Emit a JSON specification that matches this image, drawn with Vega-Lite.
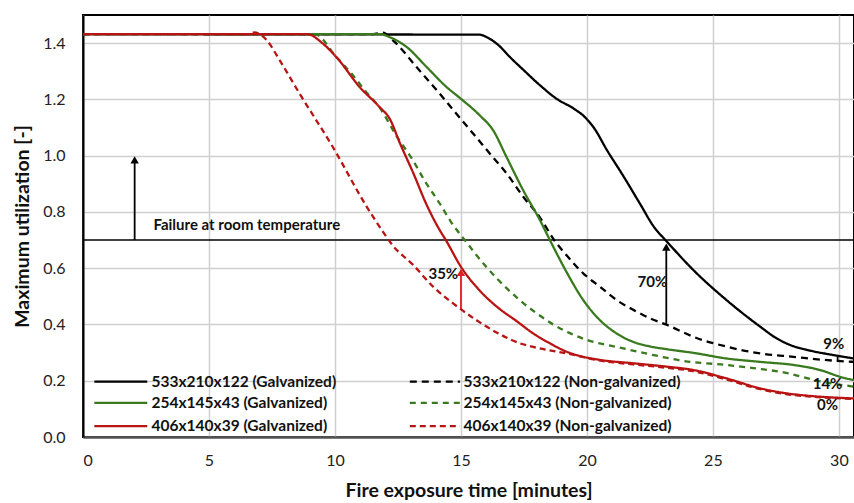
{
  "$schema": "https://vega.github.io/schema/vega-lite/v6.json",
  "width": 771,
  "height": 422,
  "autosize": {"type": "none"},
  "padding": {"left": 83, "top": 15, "right": 0, "bottom": 66},
  "background": "white",
  "config": {
    "font": "Lato",
    "view": {"stroke": "black", "strokeWidth": 2},
    "axis": {
      "labelFont": "Lato",
      "labelFontSize": 16,
      "labelColor": "#222222",
      "titleFont": "Lato",
      "titleFontSize": 19.5,
      "titleFontWeight": "bold",
      "titleColor": "#111111",
      "gridColor": "#d0d0d0",
      "gridWidth": 1.5,
      "ticks": false
    }
  },
  "datasets": {
    "curves": [
      {"series": "533x210x122 (Galvanized)", "t": 0, "u": 1.432},
      {"series": "533x210x122 (Galvanized)", "t": 15.75, "u": 1.43},
      {"series": "533x210x122 (Galvanized)", "t": 16.03, "u": 1.421},
      {"series": "533x210x122 (Galvanized)", "t": 16.5, "u": 1.392},
      {"series": "533x210x122 (Galvanized)", "t": 16.95, "u": 1.35},
      {"series": "533x210x122 (Galvanized)", "t": 17.5, "u": 1.303},
      {"series": "533x210x122 (Galvanized)", "t": 18.14, "u": 1.25},
      {"series": "533x210x122 (Galvanized)", "t": 18.8, "u": 1.202},
      {"series": "533x210x122 (Galvanized)", "t": 19.48, "u": 1.167},
      {"series": "533x210x122 (Galvanized)", "t": 19.92, "u": 1.137},
      {"series": "533x210x122 (Galvanized)", "t": 20.27, "u": 1.1},
      {"series": "533x210x122 (Galvanized)", "t": 20.8, "u": 1.019},
      {"series": "533x210x122 (Galvanized)", "t": 21.47, "u": 0.924},
      {"series": "533x210x122 (Galvanized)", "t": 22.1, "u": 0.83},
      {"series": "533x210x122 (Galvanized)", "t": 22.66, "u": 0.747},
      {"series": "533x210x122 (Galvanized)", "t": 23.19, "u": 0.693},
      {"series": "533x210x122 (Galvanized)", "t": 24.23, "u": 0.593},
      {"series": "533x210x122 (Galvanized)", "t": 25.55, "u": 0.486},
      {"series": "533x210x122 (Galvanized)", "t": 26.88, "u": 0.392},
      {"series": "533x210x122 (Galvanized)", "t": 27.54, "u": 0.35},
      {"series": "533x210x122 (Galvanized)", "t": 28.07, "u": 0.327},
      {"series": "533x210x122 (Galvanized)", "t": 28.86, "u": 0.307},
      {"series": "533x210x122 (Galvanized)", "t": 29.8, "u": 0.291},
      {"series": "533x210x122 (Galvanized)", "t": 30.6, "u": 0.279},

      {"series": "533x210x122 (Non-galvanized)", "t": 0, "u": 1.432},
      {"series": "533x210x122 (Non-galvanized)", "t": 11.5, "u": 1.432},
      {"series": "533x210x122 (Non-galvanized)", "t": 11.9, "u": 1.437},
      {"series": "533x210x122 (Non-galvanized)", "t": 12.3, "u": 1.41},
      {"series": "533x210x122 (Non-galvanized)", "t": 13.24, "u": 1.315},
      {"series": "533x210x122 (Non-galvanized)", "t": 14.16, "u": 1.22},
      {"series": "533x210x122 (Non-galvanized)", "t": 14.82, "u": 1.149},
      {"series": "533x210x122 (Non-galvanized)", "t": 15.49, "u": 1.078},
      {"series": "533x210x122 (Non-galvanized)", "t": 16.15, "u": 1.007},
      {"series": "533x210x122 (Non-galvanized)", "t": 16.82, "u": 0.936},
      {"series": "533x210x122 (Non-galvanized)", "t": 17.48, "u": 0.853},
      {"series": "533x210x122 (Non-galvanized)", "t": 18.14, "u": 0.78},
      {"series": "533x210x122 (Non-galvanized)", "t": 18.7, "u": 0.7},
      {"series": "533x210x122 (Non-galvanized)", "t": 19.2, "u": 0.645},
      {"series": "533x210x122 (Non-galvanized)", "t": 19.86, "u": 0.581},
      {"series": "533x210x122 (Non-galvanized)", "t": 20.52, "u": 0.534},
      {"series": "533x210x122 (Non-galvanized)", "t": 21.19, "u": 0.486},
      {"series": "533x210x122 (Non-galvanized)", "t": 21.86, "u": 0.451},
      {"series": "533x210x122 (Non-galvanized)", "t": 22.5, "u": 0.422},
      {"series": "533x210x122 (Non-galvanized)", "t": 23.19, "u": 0.398},
      {"series": "533x210x122 (Non-galvanized)", "t": 24.23, "u": 0.356},
      {"series": "533x210x122 (Non-galvanized)", "t": 25.55, "u": 0.321},
      {"series": "533x210x122 (Non-galvanized)", "t": 26.88, "u": 0.297},
      {"series": "533x210x122 (Non-galvanized)", "t": 28.2, "u": 0.285},
      {"series": "533x210x122 (Non-galvanized)", "t": 29.55, "u": 0.273},
      {"series": "533x210x122 (Non-galvanized)", "t": 30.6, "u": 0.267},

      {"series": "254x145x43 (Galvanized)", "t": 0, "u": 1.432},
      {"series": "254x145x43 (Galvanized)", "t": 11.8, "u": 1.432},
      {"series": "254x145x43 (Galvanized)", "t": 12.18, "u": 1.421},
      {"series": "254x145x43 (Galvanized)", "t": 12.85, "u": 1.386},
      {"series": "254x145x43 (Galvanized)", "t": 13.64, "u": 1.315},
      {"series": "254x145x43 (Galvanized)", "t": 14.43, "u": 1.244},
      {"series": "254x145x43 (Galvanized)", "t": 14.96, "u": 1.205},
      {"series": "254x145x43 (Galvanized)", "t": 15.75, "u": 1.143},
      {"series": "254x145x43 (Galvanized)", "t": 16.28, "u": 1.09},
      {"series": "254x145x43 (Galvanized)", "t": 16.81, "u": 0.995},
      {"series": "254x145x43 (Galvanized)", "t": 17.47, "u": 0.877},
      {"series": "254x145x43 (Galvanized)", "t": 18.14, "u": 0.77},
      {"series": "254x145x43 (Galvanized)", "t": 18.53, "u": 0.7},
      {"series": "254x145x43 (Galvanized)", "t": 19.2, "u": 0.585},
      {"series": "254x145x43 (Galvanized)", "t": 19.86, "u": 0.486},
      {"series": "254x145x43 (Galvanized)", "t": 20.52, "u": 0.415},
      {"series": "254x145x43 (Galvanized)", "t": 21.18, "u": 0.368},
      {"series": "254x145x43 (Galvanized)", "t": 21.84, "u": 0.338},
      {"series": "254x145x43 (Galvanized)", "t": 22.5, "u": 0.322},
      {"series": "254x145x43 (Galvanized)", "t": 23.17, "u": 0.312},
      {"series": "254x145x43 (Galvanized)", "t": 24.23, "u": 0.299},
      {"series": "254x145x43 (Galvanized)", "t": 25.55, "u": 0.279},
      {"series": "254x145x43 (Galvanized)", "t": 26.88, "u": 0.267},
      {"series": "254x145x43 (Galvanized)", "t": 28.2, "u": 0.256},
      {"series": "254x145x43 (Galvanized)", "t": 29.26, "u": 0.238},
      {"series": "254x145x43 (Galvanized)", "t": 30.05, "u": 0.214},
      {"series": "254x145x43 (Galvanized)", "t": 30.6, "u": 0.202},

      {"series": "254x145x43 (Non-galvanized)", "t": 0, "u": 1.432},
      {"series": "254x145x43 (Non-galvanized)", "t": 9.2, "u": 1.432},
      {"series": "254x145x43 (Non-galvanized)", "t": 10.06, "u": 1.35},
      {"series": "254x145x43 (Non-galvanized)", "t": 10.72, "u": 1.285},
      {"series": "254x145x43 (Non-galvanized)", "t": 11.25, "u": 1.225},
      {"series": "254x145x43 (Non-galvanized)", "t": 11.78, "u": 1.17},
      {"series": "254x145x43 (Non-galvanized)", "t": 12.44, "u": 1.07},
      {"series": "254x145x43 (Non-galvanized)", "t": 13.05, "u": 0.99},
      {"series": "254x145x43 (Non-galvanized)", "t": 13.6, "u": 0.905},
      {"series": "254x145x43 (Non-galvanized)", "t": 14.16, "u": 0.83},
      {"series": "254x145x43 (Non-galvanized)", "t": 14.6, "u": 0.765},
      {"series": "254x145x43 (Non-galvanized)", "t": 15.15, "u": 0.7},
      {"series": "254x145x43 (Non-galvanized)", "t": 16.0, "u": 0.605},
      {"series": "254x145x43 (Non-galvanized)", "t": 16.8, "u": 0.53},
      {"series": "254x145x43 (Non-galvanized)", "t": 17.34, "u": 0.486},
      {"series": "254x145x43 (Non-galvanized)", "t": 18.0, "u": 0.44},
      {"series": "254x145x43 (Non-galvanized)", "t": 18.66, "u": 0.4},
      {"series": "254x145x43 (Non-galvanized)", "t": 19.3, "u": 0.37},
      {"series": "254x145x43 (Non-galvanized)", "t": 20.0, "u": 0.345},
      {"series": "254x145x43 (Non-galvanized)", "t": 21.3, "u": 0.318},
      {"series": "254x145x43 (Non-galvanized)", "t": 22.6, "u": 0.292},
      {"series": "254x145x43 (Non-galvanized)", "t": 24.0, "u": 0.268},
      {"series": "254x145x43 (Non-galvanized)", "t": 25.3, "u": 0.258},
      {"series": "254x145x43 (Non-galvanized)", "t": 26.6, "u": 0.245},
      {"series": "254x145x43 (Non-galvanized)", "t": 27.9, "u": 0.228},
      {"series": "254x145x43 (Non-galvanized)", "t": 29.26, "u": 0.198},
      {"series": "254x145x43 (Non-galvanized)", "t": 30.6, "u": 0.179},

      {"series": "406x140x39 (Galvanized)", "t": 0, "u": 1.432},
      {"series": "406x140x39 (Galvanized)", "t": 8.9, "u": 1.432},
      {"series": "406x140x39 (Galvanized)", "t": 9.5, "u": 1.4},
      {"series": "406x140x39 (Galvanized)", "t": 10.06, "u": 1.35},
      {"series": "406x140x39 (Galvanized)", "t": 10.99, "u": 1.243},
      {"series": "406x140x39 (Galvanized)", "t": 11.78, "u": 1.172},
      {"series": "406x140x39 (Galvanized)", "t": 12.18, "u": 1.13},
      {"series": "406x140x39 (Galvanized)", "t": 12.57, "u": 1.046},
      {"series": "406x140x39 (Galvanized)", "t": 13.1, "u": 0.94},
      {"series": "406x140x39 (Galvanized)", "t": 13.64, "u": 0.825},
      {"series": "406x140x39 (Galvanized)", "t": 14.16, "u": 0.735},
      {"series": "406x140x39 (Galvanized)", "t": 14.4, "u": 0.7},
      {"series": "406x140x39 (Galvanized)", "t": 15.0, "u": 0.605},
      {"series": "406x140x39 (Galvanized)", "t": 15.75, "u": 0.52},
      {"series": "406x140x39 (Galvanized)", "t": 16.54, "u": 0.455},
      {"series": "406x140x39 (Galvanized)", "t": 17.21, "u": 0.412},
      {"series": "406x140x39 (Galvanized)", "t": 17.87, "u": 0.368},
      {"series": "406x140x39 (Galvanized)", "t": 18.53, "u": 0.333},
      {"series": "406x140x39 (Galvanized)", "t": 19.2, "u": 0.303},
      {"series": "406x140x39 (Galvanized)", "t": 19.86, "u": 0.285},
      {"series": "406x140x39 (Galvanized)", "t": 20.52, "u": 0.274},
      {"series": "406x140x39 (Galvanized)", "t": 21.84, "u": 0.262},
      {"series": "406x140x39 (Galvanized)", "t": 23.17, "u": 0.25},
      {"series": "406x140x39 (Galvanized)", "t": 24.23, "u": 0.238},
      {"series": "406x140x39 (Galvanized)", "t": 25.55, "u": 0.208},
      {"series": "406x140x39 (Galvanized)", "t": 26.88, "u": 0.173},
      {"series": "406x140x39 (Galvanized)", "t": 27.94, "u": 0.155},
      {"series": "406x140x39 (Galvanized)", "t": 28.86, "u": 0.146},
      {"series": "406x140x39 (Galvanized)", "t": 30.6, "u": 0.137},

      {"series": "406x140x39 (Non-galvanized)", "t": 0, "u": 1.432},
      {"series": "406x140x39 (Non-galvanized)", "t": 6.6, "u": 1.432},
      {"series": "406x140x39 (Non-galvanized)", "t": 6.8, "u": 1.438},
      {"series": "406x140x39 (Non-galvanized)", "t": 7.05, "u": 1.43},
      {"series": "406x140x39 (Non-galvanized)", "t": 7.3, "u": 1.41},
      {"series": "406x140x39 (Non-galvanized)", "t": 7.8, "u": 1.34},
      {"series": "406x140x39 (Non-galvanized)", "t": 8.6, "u": 1.22},
      {"series": "406x140x39 (Non-galvanized)", "t": 9.92, "u": 1.03},
      {"series": "406x140x39 (Non-galvanized)", "t": 11.25, "u": 0.82},
      {"series": "406x140x39 (Non-galvanized)", "t": 11.9, "u": 0.73},
      {"series": "406x140x39 (Non-galvanized)", "t": 12.3, "u": 0.68},
      {"series": "406x140x39 (Non-galvanized)", "t": 13.1, "u": 0.612},
      {"series": "406x140x39 (Non-galvanized)", "t": 13.9, "u": 0.534},
      {"series": "406x140x39 (Non-galvanized)", "t": 14.69, "u": 0.475},
      {"series": "406x140x39 (Non-galvanized)", "t": 15.62, "u": 0.415},
      {"series": "406x140x39 (Non-galvanized)", "t": 16.55, "u": 0.365},
      {"series": "406x140x39 (Non-galvanized)", "t": 17.34, "u": 0.333},
      {"series": "406x140x39 (Non-galvanized)", "t": 17.87, "u": 0.32},
      {"series": "406x140x39 (Non-galvanized)", "t": 19.2, "u": 0.297},
      {"series": "406x140x39 (Non-galvanized)", "t": 20.5, "u": 0.272},
      {"series": "406x140x39 (Non-galvanized)", "t": 21.84, "u": 0.258},
      {"series": "406x140x39 (Non-galvanized)", "t": 23.17, "u": 0.246},
      {"series": "406x140x39 (Non-galvanized)", "t": 24.23, "u": 0.234},
      {"series": "406x140x39 (Non-galvanized)", "t": 25.55, "u": 0.204},
      {"series": "406x140x39 (Non-galvanized)", "t": 26.88, "u": 0.17},
      {"series": "406x140x39 (Non-galvanized)", "t": 27.94, "u": 0.152},
      {"series": "406x140x39 (Non-galvanized)", "t": 28.86, "u": 0.144},
      {"series": "406x140x39 (Non-galvanized)", "t": 30.6, "u": 0.135}
    ],
    "legendRows": [
      {"series": "533x210x122 (Galvanized)", "x1": 0.45, "x2": 2.55, "lx": 2.72, "y": 0.197},
      {"series": "254x145x43 (Galvanized)", "x1": 0.45, "x2": 2.55, "lx": 2.72, "y": 0.121},
      {"series": "406x140x39 (Galvanized)", "x1": 0.45, "x2": 2.55, "lx": 2.72, "y": 0.039},
      {"series": "533x210x122 (Non-galvanized)", "x1": 12.97, "x2": 14.96, "lx": 15.1, "y": 0.197},
      {"series": "254x145x43 (Non-galvanized)", "x1": 12.97, "x2": 14.96, "lx": 15.1, "y": 0.121},
      {"series": "406x140x39 (Non-galvanized)", "x1": 12.97, "x2": 14.96, "lx": 15.1, "y": 0.039}
    ],
    "labels": [
      {"t": 6.5, "u": 0.752, "label": "Failure at room temperature"},
      {"t": 14.3, "u": 0.58, "label": "35%"},
      {"t": 22.6, "u": 0.551, "label": "70%"},
      {"t": 29.8, "u": 0.33, "label": "9%"},
      {"t": 29.55, "u": 0.19, "label": "14%"},
      {"t": 29.55, "u": 0.114, "label": "0%"}
    ]
  },
  "encoding": {
    "x": {
      "type": "quantitative",
      "scale": {"domain": [0, 30.6], "nice": false, "zero": false},
      "axis": {
        "title": "Fire exposure time [minutes]",
        "values": [0, 5, 10, 15, 20, 25, 30],
        "labelPadding": 15,
        "titlePadding": 13,
        "domainColor": "#555555",
        "domainWidth": 2.5
      }
    },
    "y": {
      "type": "quantitative",
      "scale": {"domain": [0, 1.5], "nice": false},
      "axis": {
        "title": "Maximum utilization [-]",
        "values": [0, 0.2, 0.4, 0.6, 0.8, 1.0, 1.2, 1.4],
        "format": ".1f",
        "labelPadding": 18,
        "titlePadding": 10,
        "domainColor": "#000000",
        "domainWidth": 2
      }
    }
  },
  "layer": [
    {
      "data": {"values": [{"u": 0.7}]},
      "mark": {"type": "rule", "color": "#000000", "strokeWidth": 1.6},
      "encoding": {"y": {"field": "u"}}
    },
    {
      "data": {"name": "curves"},
      "mark": {"type": "line", "strokeWidth": 2.3, "interpolate": "monotone"},
      "encoding": {
        "x": {"field": "t"},
        "y": {"field": "u"},
        "color": {
          "field": "series",
          "type": "nominal",
          "scale": {
            "domain": ["533x210x122 (Galvanized)", "533x210x122 (Non-galvanized)", "254x145x43 (Galvanized)", "254x145x43 (Non-galvanized)", "406x140x39 (Galvanized)", "406x140x39 (Non-galvanized)"],
            "range": ["#000000", "#000000", "#3a7a1e", "#3a7a1e", "#b81414", "#b81414"]
          },
          "legend": null
        },
        "strokeDash": {
          "field": "series",
          "type": "nominal",
          "scale": {
            "domain": ["533x210x122 (Galvanized)", "533x210x122 (Non-galvanized)", "254x145x43 (Galvanized)", "254x145x43 (Non-galvanized)", "406x140x39 (Galvanized)", "406x140x39 (Non-galvanized)"],
            "range": [[1, 0], [7, 5], [1, 0], [6, 5], [1, 0], [6, 4]]
          },
          "legend": null
        }
      }
    },
    {
      "data": {"name": "legendRows"},
      "mark": {"type": "rule", "strokeWidth": 2.3},
      "encoding": {
        "x": {"field": "x1"},
        "x2": {"field": "x2"},
        "y": {"field": "y"},
        "color": {"field": "series", "type": "nominal", "legend": null},
        "strokeDash": {"field": "series", "type": "nominal", "legend": null}
      }
    },
    {
      "data": {"name": "legendRows"},
      "mark": {"type": "text", "align": "left", "baseline": "middle", "font": "Lato", "fontSize": 15.5, "fontWeight": "bold", "color": "#111111"},
      "encoding": {
        "x": {"field": "lx"},
        "y": {"field": "y"},
        "text": {"field": "series"}
      }
    },
    {
      "data": {"values": [
        {"t": 2.05, "from": 0.7, "to": 0.985},
        {"t": 23.15, "from": 0.398, "to": 0.675},
        {"t": 29.95, "from": 0.268, "to": 0.287}
      ]},
      "mark": {"type": "rule", "strokeWidth": 1.8, "color": "#000000"},
      "encoding": {
        "x": {"field": "t"},
        "y": {"field": "from"},
        "y2": {"field": "to"}
      }
    },
    {
      "data": {"values": [
        {"t": 2.05, "to": 0.985},
        {"t": 23.15, "to": 0.675}
      ]},
      "mark": {"type": "point", "shape": "triangle-up", "filled": true, "size": 70, "opacity": 1, "color": "#000000"},
      "encoding": {
        "x": {"field": "t"},
        "y": {"field": "to"}
      }
    },
    {
      "data": {"values": [
        {"t": 15.0, "from": 0.455, "to": 0.585}
      ]},
      "mark": {"type": "rule", "strokeWidth": 1.8, "color": "#e02020"},
      "encoding": {
        "x": {"field": "t"},
        "y": {"field": "from"},
        "y2": {"field": "to"}
      }
    },
    {
      "data": {"values": [
        {"t": 15.0, "to": 0.585}
      ]},
      "mark": {"type": "point", "shape": "triangle-up", "filled": true, "size": 70, "opacity": 1, "color": "#e02020"},
      "encoding": {
        "x": {"field": "t"},
        "y": {"field": "to"}
      }
    },
    {
      "data": {"name": "labels"},
      "mark": {"type": "text", "font": "Lato", "fontSize": 15, "fontWeight": "bold", "color": "#111111"},
      "encoding": {
        "x": {"field": "t"},
        "y": {"field": "u"},
        "text": {"field": "label"}
      }
    }
  ]
}
